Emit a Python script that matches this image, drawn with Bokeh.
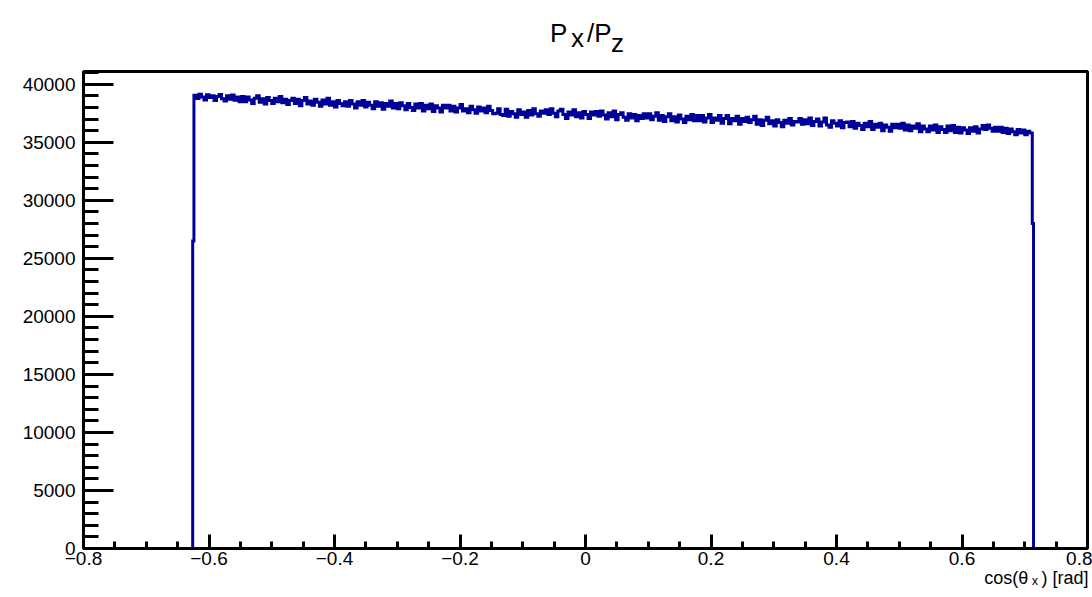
from bokeh.plotting import figure
from bokeh.models import Range1d, FixedTicker, Title, Div
from bokeh.layouts import column
from bokeh.embed import file_html
from bokeh.resources import INLINE

# ---------------- data ----------------
bin_width = 0.004
first_full_edge = -0.624      # left edge of the first full bin
edge_first = [-0.626, 26500]  # partial bin at the left edge: [left edge, count]
edge_last = [0.714, 28000]    # partial bin at the right edge: [right edge, count]
counts = [
    39050, 38780, 39150, 38900, 38650, 39100, 38850, 39000, 38600, 38950, 39120, 38750, 38550, 39000, 38700, 39080, 38620, 38900, 38500, 38950,
    38500, 38900, 38650, 38350, 38800, 39000, 38450, 38750, 38300, 38850, 38600, 38350, 38800, 38500, 38950, 38400, 38700, 38250, 38600, 38800,
    38350, 38700, 38150, 38600, 38850, 38300, 38550, 38200, 38700, 38450, 38100, 38650, 38300, 38800, 38200, 38500, 38050, 38600, 38350, 38150,
    38500, 38100, 38600, 38300, 37950, 38500, 38200, 38600, 38050, 38450, 38200, 37900, 38500, 38100, 38400, 37850, 38350, 38100, 38550, 37950,
    38350, 37900, 38400, 38150, 37800, 38350, 38000, 37750, 38300, 37950, 38350, 37700, 38200, 37900, 38300, 37650, 38150, 37950, 37600, 38200,
    37950, 38200, 37700, 38100, 37600, 37950, 38250, 37700, 37900, 37550, 38100, 37800, 37500, 38050, 37700, 37950, 37550, 38100, 37750, 37450,
    37500, 37900, 37400, 37300, 37850, 37250, 37650, 37450, 37150, 37800, 37400, 37600, 37150, 37750, 37350, 37900, 37450, 37250, 37700, 37500,
    37800, 37400, 37900, 37500, 37200, 37700, 37850, 37400, 37050, 37600, 37350, 37800, 37200, 37550, 37100, 37650, 37400, 37050, 37600, 37350,
    37650, 37250, 37700, 37350, 37000, 37550, 37200, 37700, 36950, 37400, 37550, 37150, 36900, 37450, 37100, 37400, 36850, 37300, 37050, 37450,
    37100, 37450, 36950, 37250, 37550, 36900, 37300, 36800, 37200, 37450, 36850, 37200, 36750, 37350, 37000, 36700, 37250, 36950, 37400, 36850,
    37300, 36850, 37300, 36750, 37100, 37400, 36700, 37100, 36900, 37300, 36650, 37050, 37300, 36600, 37050, 36850, 37250, 36550, 37050, 36800,
    37150, 36700, 36950, 37250, 36550, 36950, 36450, 36900, 37150, 36600, 36850, 36400, 36950, 36700, 36350, 36900, 36650, 37050, 36500, 36800,
    36750, 37050, 36550, 36950, 36600, 37100, 36450, 36800, 37000, 36400, 36750, 37100, 36500, 36300, 36850, 36650, 36400, 36850, 36250, 36700,
    36750, 36350, 36800, 36200, 36650, 36450, 36100, 36650, 36350, 36800, 36100, 36550, 36300, 36650, 36000, 36500, 36300, 35950, 36550, 36250,
    36550, 36200, 36650, 36050, 36500, 36000, 36400, 36200, 36600, 35900, 36400, 36150, 35900, 36400, 36050, 36500, 35850, 36350, 36100, 35850,
    36400, 36000, 36450, 35850, 36300, 35800, 36250, 36050, 35750, 36250, 35950, 36350, 35800, 36150, 36450, 36100, 36500, 36200, 35950, 36300,
    35950, 36300, 35850, 36200, 35750, 36150, 35900, 35650, 36100, 35800, 36050, 35650, 35950, 35800,
]
x_ticks = [-0.8, -0.6, -0.4, -0.2, 0, 0.2, 0.4, 0.6, 0.8]
x_tick_labels = ["\u22120.8", "\u22120.6", "\u22120.4", "\u22120.2", "0", "0.2", "0.4", "0.6", "0.8"]
y_ticks = [0, 5000, 10000, 15000, 20000, 25000, 30000, 35000, 40000]
x_title = "cos(\u03b8\u2009\u2093\u2009) [rad]"

# ------------- build histogram outline -------------
edges = [edge_first[0]] + [first_full_edge + i * bin_width for i in range(len(counts) + 1)] + [edge_last[0]]
vals = [edge_first[1]] + counts + [edge_last[1]]
xs, ys = [edges[0]], [0]
for i, c in enumerate(vals):
    xs += [edges[i], edges[i + 1]]
    ys += [c, c]
xs.append(edges[-1])
ys.append(0)

W, H = 1092, 597
TITLE_H = 58
FL, FR, FT, FB = 83, 1087, 71, 548
XMIN, XMAX, YMIN, YMAX = -0.8, 0.8, 0, 41100

# ---- title (HTML with real subscripts), absolutely positioned pieces ----
font = "font-family:'Liberation Sans',Arial,sans-serif;line-height:1;white-space:nowrap;color:black;font-size:26px;"
title_html = (
    f'<div style="position:relative;width:{W}px;height:{TITLE_H}px;margin:0;padding:0;">'
    f'<span style="position:absolute;left:550px;top:20px;{font}">P</span>'
    f'<span style="position:absolute;left:571px;top:25px;{font}">x</span>'
    f'<span style="position:absolute;left:587px;top:20px;{font}">/P</span>'
    f'<span style="position:absolute;left:611px;top:30px;{font}">z</span>'
    '</div>'
)
title_div = Div(text=title_html, width=W, height=TITLE_H, margin=0)

p = figure(width=W, height=H - TITLE_H, output_backend="svg", toolbar_location=None,
           x_range=Range1d(XMIN, XMAX), y_range=Range1d(YMIN, YMAX),
           min_border_left=FL, min_border_right=W - FR,
           min_border_top=FT - TITLE_H, min_border_bottom=H - FB, title=None, margin=0)
p.background_fill_color = "white"
p.border_fill_color = "white"
p.outline_line_color = "black"
p.outline_line_width = 3
p.xgrid.visible = False
p.ygrid.visible = False

p.line(xs, ys, line_color="#000099", line_width=3, line_join="miter")

minor_x = [round(-0.8 + 0.05 * k, 3) for k in range(33)]
minor_y = [1000 * k for k in range(42)]
p.xaxis.ticker = FixedTicker(ticks=x_ticks, minor_ticks=minor_x)
p.yaxis.ticker = FixedTicker(ticks=y_ticks, minor_ticks=minor_y)
p.xaxis.major_label_overrides = {t: l for t, l in zip(x_ticks, x_tick_labels)}
p.yaxis.major_label_overrides = {t: str(t) for t in y_ticks}

for ax in (p.xaxis[0], p.yaxis[0]):
    ax.axis_line_color = "black"
    ax.axis_line_width = 3
    ax.major_tick_line_color = "black"
    ax.minor_tick_line_color = "black"
    ax.major_tick_line_width = 3
    ax.minor_tick_line_width = 3
    ax.major_tick_out = 0
    ax.minor_tick_out = 0
    ax.major_label_text_font = "Liberation Sans"
    ax.major_label_text_color = "black"

p.xaxis.major_tick_in = 14
p.xaxis.minor_tick_in = 7
p.yaxis.major_tick_in = 30
p.yaxis.minor_tick_in = 15
p.xaxis.major_label_text_font_size = "19px"
p.yaxis.major_label_text_font_size = "19px"
p.xaxis.major_label_standoff = 3
p.yaxis.major_label_standoff = 8

# x axis title, right aligned below the axis
xt = Title(text=x_title, align="right", vertical_align="top", standoff=0, offset=-1,
           text_font="Liberation Sans", text_font_size="18px", text_font_style="normal",
           text_color="black")
p.add_layout(xt, "below")

layout = column(title_div, p, spacing=0, margin=0)
open("out.html", "w").write(file_html(layout, INLINE))
